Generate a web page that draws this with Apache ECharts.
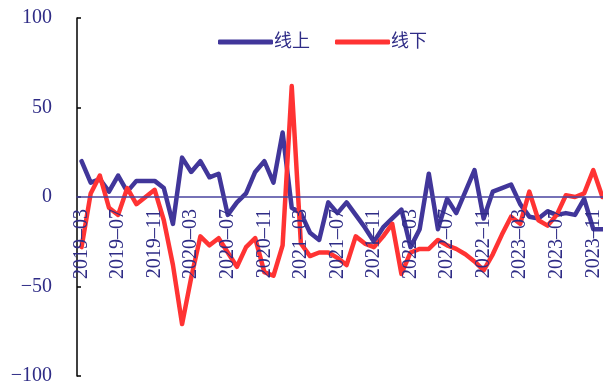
<!DOCTYPE html>
<html>
<head>
<meta charset="utf-8">
<script src="https://cdn.jsdelivr.net/npm/echarts@6/dist/echarts.min.js"></script>
<style>
  html, body { margin: 0; padding: 0; background: #fff; }
  #chart { width: 603px; height: 388px; }
</style>
</head>
<body>
<div id="chart"></div>
<script>
var months = [];
(function () {
  var y = 2019, m = 3;
  for (var k = 0; k < 58; k++) {
    months.push(y + '-' + (m < 10 ? '0' + m : m));
    m++;
    if (m > 12) { m = 1; y++; }
  }
})();

var online = [20, 8, 10, 3, 12, 3, 9, 9, 9, 5, -15, 22,
  14, 20, 11, 13, -10, -3, 2, 14, 20, 8, 36, -6,
  -9, -20, -24, -3, -9, -3, -10, -17, -25, -17, -12, -7,
  -28, -18, 13, -18, -1, -9, 3, 15, -12, 3, 5, 7,
  -4, -11, -12, -8, -10, -9, -10, -1, -18, -18];

var offline = [-28, 2, 12, -6, -10, 5, -4, 0, 4, -13, -38, -71,
  -45, -22, -27, -23, -31, -39, -28, -23, -42, -44, -27, 62,
  -26, -33, -31, -31, -34, -38, -22, -26, -28, -22, -15, -43,
  -31, -29, -29, -24, -27, -29, -32, -36, -41, -32, -21, -11,
  -15, 3, -13, -16, -10, 1, 0, 2, 15, 0];

var yTicks = [-100, -50, 0, 50, 100];

var textColor = '#2f2c86';
var serif = 'Liberation Serif, Noto Sans CJK SC, serif';
var gridH = 358;

var myChart = echarts.init(document.getElementById('chart'));

var option = {
  animation: false,
  legend: {
    left: 213,
    top: 28,
    icon: 'roundRect',
    itemWidth: 55,
    itemHeight: 5,
    itemGap: 25,
    data: ['线上', '线下'],
    textStyle: {
      color: textColor,
      fontSize: 18,
      fontFamily: serif,
      padding: [0, 0, 0, -4]
    }
  },
  grid: {
    left: 77,
    top: 18,
    width: 530,
    height: gridH,
    containLabel: false,
    outerBoundsMode: 'none'
  },
  xAxis: {
    type: 'category',
    data: months,
    boundaryGap: true,
    position: 'bottom',
    // 0 is in the middle of the value range, so lift the axis by half the grid
    offset: -gridH / 2,
    z: 10,
    axisLine: {
      onZero: false,
      lineStyle: { color: '#4a44a0', width: 1.5 }
    },
    axisTick: {
      inside: true,
      length: 5,
      interval: 3,
      lineStyle: { color: '#4a44a0', width: 1.5 }
    },
    axisLabel: {
      interval: 3,
      rotate: 90,
      margin: 12,
      color: textColor,
      fontSize: 20,
      fontFamily: serif,
      formatter: function (v) { return v.replace('-', '\u2013'); }
    },
    splitLine: { show: false }
  },
  yAxis: {
    type: 'value',
    min: yTicks[0],
    max: yTicks[yTicks.length - 1],
    interval: 50,
    axisLine: {
      show: true,
      lineStyle: { color: '#000', width: 1.5 }
    },
    axisTick: {
      show: true,
      inside: true,
      length: 4,
      lineStyle: { color: '#000', width: 1.5 }
    },
    axisLabel: {
      margin: 25,
      color: textColor,
      fontSize: 20,
      fontFamily: serif,
      formatter: function (v) { return String(v).replace('-', '\u2212'); }
    },
    splitLine: { show: false }
  },
  series: [
    {
      name: '线上',
      type: 'line',
      data: online,
      symbol: 'none',
      itemStyle: { color: '#41369a' },
      lineStyle: { color: '#41369a', width: 4.5, cap: 'round', join: 'round' }
    },
    {
      name: '线下',
      type: 'line',
      data: offline,
      symbol: 'none',
      itemStyle: { color: '#ff3333' },
      lineStyle: { color: '#ff3333', width: 4.5, cap: 'round', join: 'round' }
    }
  ]
};

myChart.setOption(option);
window.addEventListener('resize', function () {
  myChart.resize();
});
</script>
</body>
</html>
